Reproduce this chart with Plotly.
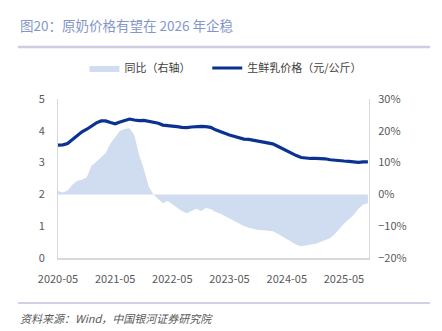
import pandas as pd
import plotly.graph_objects as go

months = pd.date_range("2020-05-01", "2025-10-01", freq="MS")

price = [3.55, 3.56, 3.60, 3.72, 3.86, 3.97, 4.05, 4.15, 4.25, 4.31, 4.31, 4.26,
         4.22, 4.28, 4.33, 4.37, 4.34, 4.32, 4.33, 4.30, 4.25, 4.24, 4.18, 4.17,
         4.15, 4.13, 4.11, 4.10, 4.12, 4.14, 4.14, 4.13, 4.11, 4.03, 3.97, 3.92,
         3.87, 3.82, 3.77, 3.74, 3.73, 3.70, 3.68, 3.66, 3.63, 3.59, 3.52, 3.44,
         3.36, 3.28, 3.22, 3.16, 3.14, 3.13, 3.13, 3.13, 3.12, 3.09, 3.07, 3.06,
         3.05, 3.04, 3.02, 3.01, 3.02, 3.02]

yoy = [1.1, 0.6, 1.2, 3.0, 4.3, 4.6, 5.4, 9.0, 10.3, 11.8, 13.0, 16.0,
       18.0, 20.0, 20.6, 20.8, 18.5, 12.5, 7.8, 2.5, 0.0, -1.5, -2.8, -2.1,
       -3.2, -4.3, -5.2, -5.9, -5.3, -4.5, -5.2, -4.3, -4.6, -5.5, -6.0, -6.8,
       -7.6, -8.4, -9.2, -9.9, -10.5, -10.9, -11.2, -11.3, -11.5, -11.6, -12.3, -13.2,
       -14.2, -15.0, -15.8, -16.3, -16.1, -15.8, -15.5, -15.0, -14.5, -13.8, -12.6, -10.8,
       -9.2, -7.8, -6.5, -4.5, -3.2, -2.8]

xtick_vals = ["2020-05-01", "2021-05-01", "2022-05-01", "2023-05-01", "2024-05-01", "2025-05-01"]
xtick_text = ["2020-05", "2021-05", "2022-05", "2023-05", "2024-05", "2025-05"]

title = "图20：原奶价格有望在 2026 年企稳"
source = "资料来源：Wind，中国银河证券研究院"

FONT = "Noto Sans CJK SC, Noto Sans, sans-serif"
TICK = "#595959"

fig = go.Figure()
fig.add_trace(go.Scatter(
    x=months, y=yoy, name="同比（右轴）", yaxis="y2", legend="legend",
    mode="lines", line=dict(width=0, color="#d0ddf0"),
    fill="tozeroy", fillcolor="#d0ddf0"))
fig.add_trace(go.Scatter(
    x=months, y=price, name="生鲜乳价格（元/公斤）", yaxis="y", legend="legend2",
    mode="lines", line=dict(width=3.2, color="#0b3291")))

leg_common = dict(orientation="h", y=1.195, xanchor="left", yanchor="middle",
                  font=dict(size=11, color="#404040"), bgcolor="rgba(0,0,0,0)",
                  itemwidth=30)

fig.update_layout(
    width=442, height=331,
    margin=dict(l=58, r=73, t=99, b=73),
    paper_bgcolor="white", plot_bgcolor="white",
    font=dict(family=FONT, size=11, color=TICK),
    showlegend=True,
    legend=dict(x=0.085, **leg_common),
    legend2=dict(x=0.48, **leg_common),
    xaxis=dict(type="date", range=["2020-05-01", "2025-10-08"],
               tickvals=xtick_vals, ticktext=xtick_text, showgrid=False,
               showline=True, linecolor="#d9d9d9", linewidth=1.5, ticks="",
               tickfont=dict(size=11, color=TICK), zeroline=False,
               ticklabelstandoff=10),
    yaxis=dict(range=[0, 5], dtick=1, showgrid=False, showline=True,
               linecolor="#d9d9d9", linewidth=1, ticks="", zeroline=False,
               tickfont=dict(size=11, color=TICK), ticklabelstandoff=10),
    yaxis2=dict(range=[-20, 30], dtick=10, overlaying="y", side="right",
                ticksuffix="%", showgrid=False, showline=True,
                linecolor="#d9d9d9", linewidth=1, ticks="", zeroline=False,
                tickfont=dict(size=11, color=TICK), ticklabelstandoff=6),
)

fig.add_annotation(text=title, xref="paper", yref="paper",
                   x=-0.128, y=1 + (99 - 25) / 159, xanchor="left", yanchor="middle",
                   showarrow=False, font=dict(size=13.5, color="#8396c9", family=FONT))
fig.add_annotation(text="<i>" + source + "</i>", xref="paper", yref="paper",
                   x=-0.128, y=-(318 - 258) / 159, xanchor="left", yanchor="middle",
                   showarrow=False, font=dict(size=11, color="#595959", family=FONT))

fig.add_shape(type="line", xref="paper", yref="paper",
              x0=-(58 - 18) / 311, x1=(430 - 58) / 311,
              y0=1 + (99 - 47) / 159, y1=1 + (99 - 47) / 159,
              line=dict(color="#cfcbe3", width=2.5))
fig.add_shape(type="line", xref="paper", yref="paper",
              x0=-(58 - 18) / 311, x1=(430 - 58) / 311,
              y0=-(303 - 258) / 159, y1=-(303 - 258) / 159,
              line=dict(color="#a8a2cc", width=1.2))

fig.write_html("out.html")
